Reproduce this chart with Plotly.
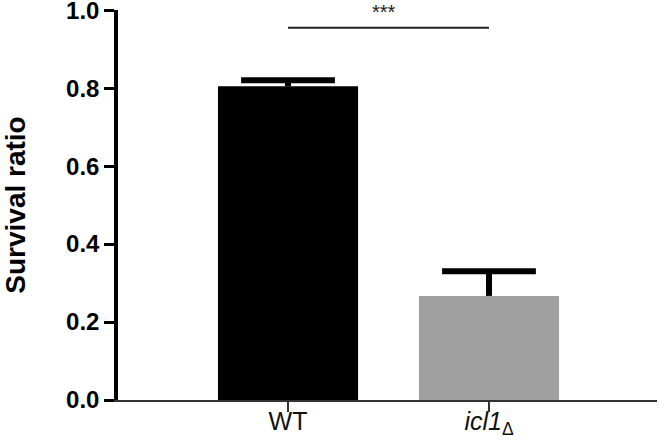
import plotly.graph_objects as go

categories = ["WT", "icl1Δ"]
tick_text = ["WT", "<i>icl1</i><sub>Δ</sub>"]
means = [0.805, 0.267]
errors_up = [0.015, 0.063]
bar_colors = ["#000000", "#a0a0a0"]
y_ticks = [0.0, 0.2, 0.4, 0.6, 0.8, 1.0]
sig_y = 0.955
sig_label = "***"

xpos = list(range(len(categories)))
tops = [m + e for m, e in zip(means, errors_up)]

fig = go.Figure()
fig.add_trace(go.Bar(
    x=xpos, y=means, width=0.697,
    marker=dict(color=bar_colors, line=dict(width=0)),
))
# error bars: stem (no caps) + cap marker at the top only
fig.add_trace(go.Scatter(
    x=xpos, y=tops, mode="markers",
    marker=dict(symbol="line-ew", size=67, line=dict(color="black", width=6)),
    error_y=dict(type="data", array=[0, 0], arrayminus=errors_up, symmetric=False,
                 color="black", thickness=6, width=0),
    hoverinfo="skip",
))

fig.add_shape(type="line", x0=0, x1=1, y0=sig_y, y1=sig_y, xref="x", yref="y",
              line=dict(color="#222", width=2))
fig.add_annotation(x=0.48, y=sig_y, xref="x", yref="y", text=sig_label, showarrow=False,
                   yanchor="bottom", yshift=3, font=dict(family="Liberation Sans", size=20, color="#222"))

fig.update_layout(
    width=660, height=443,
    margin=dict(l=118, r=3, t=10, b=43),
    plot_bgcolor="white", paper_bgcolor="white",
    showlegend=False,
    xaxis=dict(range=[-0.846, 1.836], tickvals=xpos, ticktext=tick_text, automargin=False,
               showline=True, linecolor="#333", linewidth=1.5,
               ticks="outside", ticklen=10, tickwidth=1.5, tickcolor="#333",
               tickfont=dict(family="Liberation Sans", size=25, color="#111"),
               ticklabeloverflow="allow", ticklabelstandoff=-12,
               showgrid=False, zeroline=False),
    yaxis=dict(range=[0, 1.0005], tickvals=y_ticks, ticktext=[f"{v:.1f}" for v in y_ticks],
               automargin=False, ticklabeloverflow="allow",
               showline=True, linecolor="black", linewidth=3.5,
               ticks="outside", ticklen=10, tickwidth=3, tickcolor="black",
               tickfont=dict(family="Liberation Sans", size=24, color="black", weight="bold"),
               title=dict(text="<b>Survival ratio</b>", standoff=44,
                          font=dict(family="Liberation Sans", size=28, color="black")),
               showgrid=False, zeroline=False),
)

fig.write_html("out.html", config={"displayModeBar": False},
               post_script="document.body.style.margin='0';document.body.style.overflow='hidden';")
